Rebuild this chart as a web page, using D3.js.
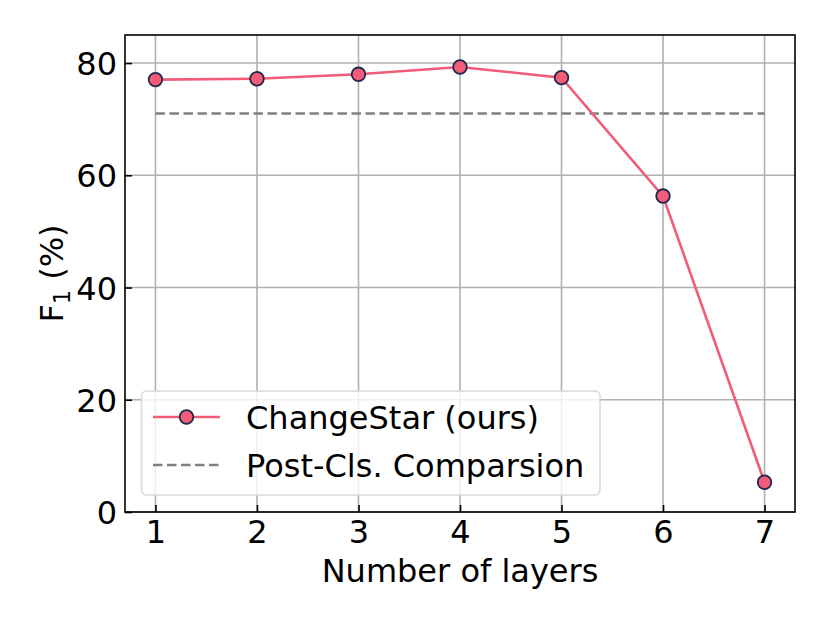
<!DOCTYPE html>
<html><head><meta charset="utf-8">
<script src="https://cdn.jsdelivr.net/npm/d3@7"></script>
<style>body{margin:0;background:#fff}svg{display:block;font-family:"DejaVu Sans",sans-serif}</style>
</head><body><svg id="c" width="830" height="623"></svg>
<script>
const layers = [1, 2, 3, 4, 5, 6, 7];
const changeStar = [77.05, 77.2, 78.0, 79.3, 77.4, 56.3, 5.3];
const postCls = 71.0;
const xTicks = [1, 2, 3, 4, 5, 6, 7];
const yTicks = [0, 20, 40, 60, 80];
const seriesNames = ["ChangeStar (ours)", "Post-Cls. Comparsion"];

const svg = d3.select("#c");
const L = 125, R = 795, T = 35, B = 512;
const x = d3.scaleLinear().domain([0.7, 7.3]).range([L, R]);
const y = d3.scaleLinear().domain([0, 85]).range([B, T]);
const red = "#f25c78", navy = "#1c2a4f", gridC = "#b0b0b0";
const fs = 32;

// grid
svg.append("g").selectAll("line").data(xTicks).join("line")
  .attr("x1", d => x(d)).attr("x2", d => x(d)).attr("y1", T).attr("y2", B)
  .attr("stroke", gridC).attr("stroke-width", 1.6);
svg.append("g").selectAll("line").data(yTicks).join("line")
  .attr("y1", d => y(d)).attr("y2", d => y(d)).attr("x1", L).attr("x2", R)
  .attr("stroke", gridC).attr("stroke-width", 1.6);

// axes
const xAxis = d3.axisBottom(x).tickValues(xTicks).tickFormat(d3.format("d")).tickSizeInner(-7).tickSizeOuter(0).tickPadding(8);
const yAxis = d3.axisLeft(y).tickValues(yTicks).tickFormat(d3.format("d")).tickSizeInner(-7).tickSizeOuter(0).tickPadding(8);
const gx = svg.append("g").attr("transform", `translate(0,${B})`).call(xAxis);
const gy = svg.append("g").attr("transform", `translate(${L},0)`).call(yAxis);
[gx, gy].forEach(g => {
  g.select(".domain").remove();
  g.selectAll(".tick line").attr("stroke", "#000").attr("stroke-width", 1.6);
  g.selectAll(".tick text").attr("font-size", fs).attr("font-family", "DejaVu Sans").attr("fill", "#000");
});
gy.selectAll(".tick text").attr("dy", "0.36em");

// dashed baseline
svg.append("line").attr("x1", x(layers[0])).attr("x2", x(layers[layers.length - 1]))
  .attr("y1", y(postCls)).attr("y2", y(postCls))
  .attr("stroke", "#808080").attr("stroke-width", 2.6).attr("stroke-dasharray", "9.5,4.5");

// series
const line = d3.line().x((d, i) => x(layers[i])).y(d => y(d));
svg.append("path").datum(changeStar).attr("d", line).attr("fill", "none")
  .attr("stroke", red).attr("stroke-width", 2.6);
svg.append("g").selectAll("circle").data(changeStar).join("circle")
  .attr("cx", (d, i) => x(layers[i])).attr("cy", d => y(d)).attr("r", 6.8)
  .attr("fill", red).attr("stroke", navy).attr("stroke-width", 1.8);

// frame
svg.append("rect").attr("x", L).attr("y", T).attr("width", R - L).attr("height", B - T)
  .attr("fill", "none").attr("stroke", "#000").attr("stroke-width", 1.6);

// legend
const lg = svg.append("g");
lg.append("rect").attr("x", 141.5).attr("y", 391).attr("width", 458.5).attr("height", 104).attr("rx", 5)
  .attr("fill", "#fff").attr("fill-opacity", 0.8).attr("stroke", "#d9d9d9").attr("stroke-width", 1.6);
const rows = [417, 465];
lg.append("line").attr("x1", 153).attr("x2", 220).attr("y1", rows[0]).attr("y2", rows[0])
  .attr("stroke", red).attr("stroke-width", 2.6);
lg.append("circle").attr("cx", 186.5).attr("cy", rows[0]).attr("r", 6.8)
  .attr("fill", red).attr("stroke", navy).attr("stroke-width", 1.8);
lg.append("line").attr("x1", 153).attr("x2", 220).attr("y1", rows[1]).attr("y2", rows[1])
  .attr("stroke", "#808080").attr("stroke-width", 2.6).attr("stroke-dasharray", "9.5,4.5");
lg.selectAll("text").data(seriesNames).join("text")
  .attr("x", 246).attr("y", (d, i) => rows[i]).attr("dy", "0.36em")
  .attr("font-size", fs).attr("fill", "#000").text(d => d);

// axis labels
svg.append("text").attr("x", (L + R) / 2).attr("y", 582).attr("text-anchor", "middle")
  .attr("font-size", fs).attr("fill", "#000").text("Number of layers");
const yl = svg.append("text").attr("transform", `translate(63,${(T + B) / 2}) rotate(-90)`)
  .attr("text-anchor", "middle").attr("font-size", fs).attr("fill", "#000");
yl.append("tspan").text("F");
yl.append("tspan").attr("font-size", fs * 0.7).attr("dy", 7).text("1");
yl.append("tspan").attr("dy", -7).text(" (%)");
</script></body></html>
